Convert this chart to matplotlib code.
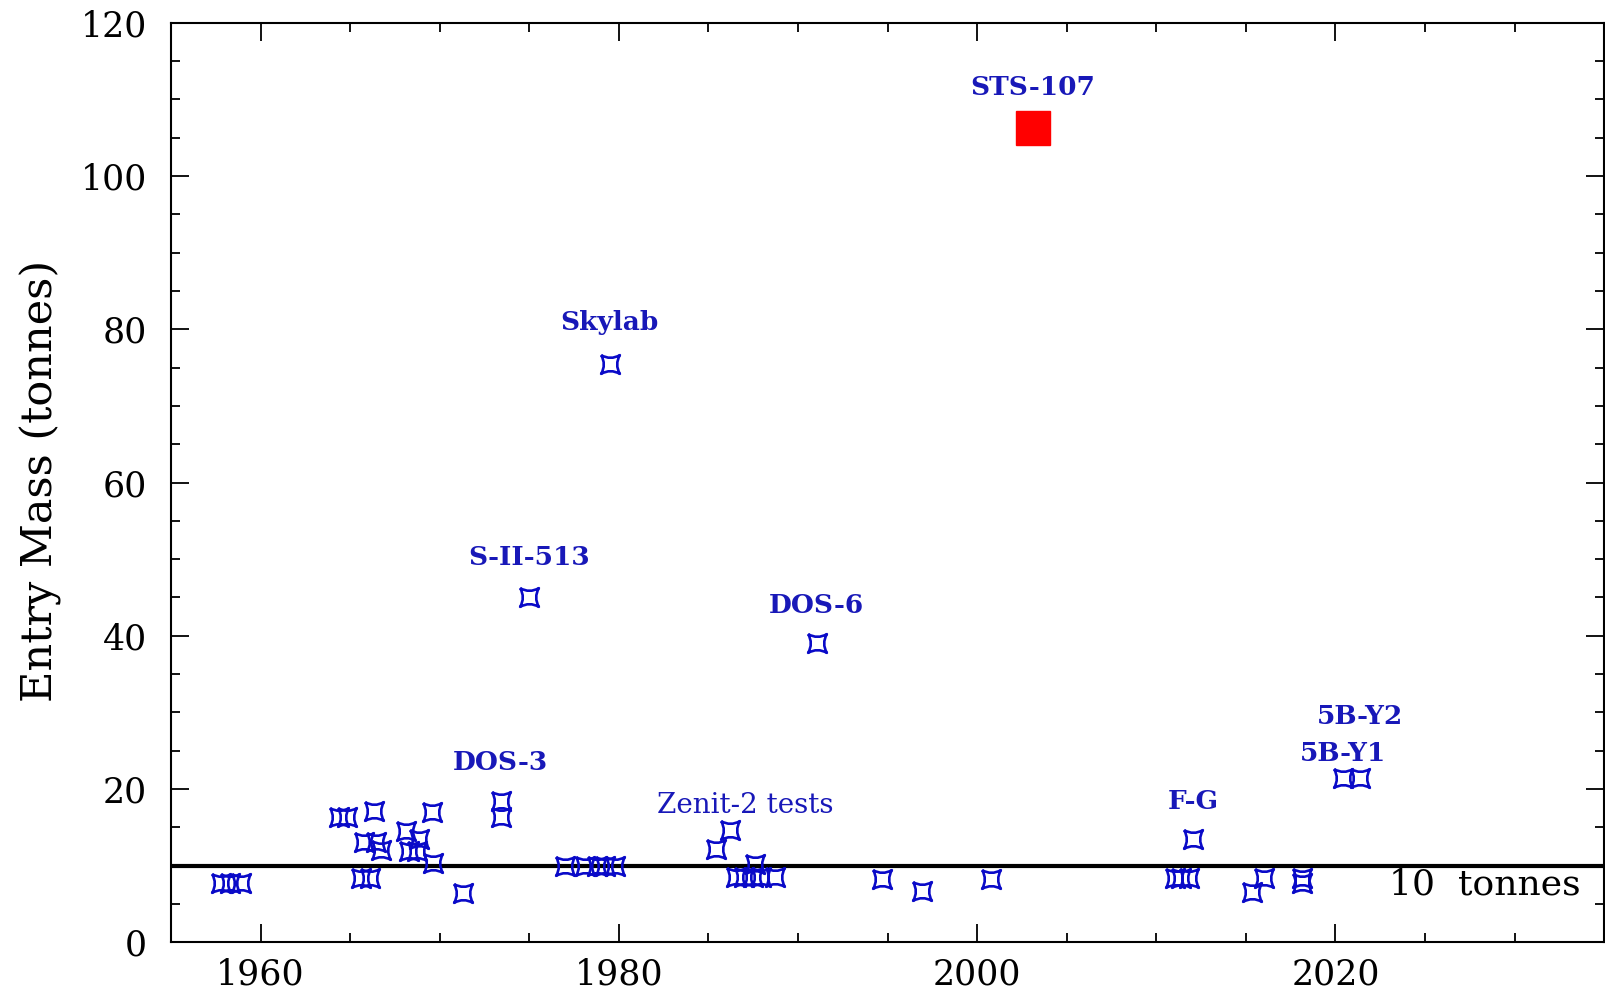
import matplotlib
matplotlib.use("Agg")
import matplotlib.pyplot as plt
from matplotlib.path import Path
from matplotlib.ticker import MultipleLocator

# uncontrolled entries, year of reentry vs mass in tonnes
years = [1957.8, 1958.3, 1958.9,
         1964.4, 1964.8, 1966.35,
         1965.8, 1966.45, 1966.7,
         1965.6, 1966.1,
         1968.1, 1968.85, 1968.3, 1968.75, 1969.6, 1969.55,
         1971.3, 1973.4, 1973.4,
         1975.0, 1979.5,
         1977.0, 1978.1, 1978.8, 1979.25, 1979.8,
         1985.45, 1986.2, 1986.55, 1987.0, 1987.5, 1987.95, 1988.7, 1987.6,
         1991.05, 1994.7, 1996.9, 2000.8,
         2011.05, 2011.4, 2011.8, 2012.05,
         2015.35, 2016.0, 2018.15, 2018.15,
         2020.4, 2021.35]
masses = [7.8, 7.8, 7.8,
          16.3, 16.3, 17.2,
          13.1, 13.1, 12.0,
          8.4, 8.4,
          14.5, 13.5, 11.9, 11.9, 10.3, 17.0,
          6.5, 18.4, 16.4,
          45.1, 75.5,
          10.0, 10.0, 10.0, 10.0, 10.0,
          12.2, 14.6, 8.5, 8.5, 8.5, 8.5, 8.5, 10.2,
          39.0, 8.3, 6.7, 8.3,
          8.4, 8.4, 8.4, 13.5,
          6.6, 8.4, 8.4, 7.7,
          21.5, 21.5]

sts_year = [2003.1]
sts_mass = [106.3]

# named entries: (label, year, mass, text offset in points, bold)
names = [("STS-107", 2003.1, 106.3, (0, 29), True),
         ("Skylab", 1979.5, 75.5, (0, 30), True),
         ("S-II-513", 1975.0, 45.1, (0, 28), True),
         ("DOS-6", 1991.05, 39.0, (0, 27), True),
         ("DOS-3", 1973.4, 18.4, (0, 28), True),
         ("Zenit-2 tests", 1986.2, 14.6, (11, 18), False),
         ("F-G", 2012.05, 13.5, (0, 27), True),
         ("5B-Y1", 2020.4, 21.5, (0, 17), True),
         ("5B-Y2", 2021.35, 21.5, (0, 44), True)]

blue = "#0a0ac8"
txt_blue = "#1818b8"

# four-pointed star with concave sides, points on the diagonals
c = 0.42
verts = [(-1, 1), (0, c), (1, 1), (c, 0), (1, -1), (0, -c), (-1, -1), (-c, 0), (-1, 1)]
codes = [Path.MOVETO] + [Path.CURVE3] * 8
star = Path(verts, codes)

plt.rcParams["font.family"] = ["DejaVu Serif"]

fig = plt.figure(figsize=(16.05, 9.91), dpi=100)
ax = fig.add_axes([0.1065, 0.0491, 0.893, 0.928])

ax.axhline(10, color="black", lw=3.0, zorder=2)
ax.plot(years, masses, linestyle="none", marker=star, markersize=13.5,
        markerfacecolor="none", markeredgecolor=blue, markeredgewidth=1.9, zorder=3)
ax.plot(sts_year, sts_mass, linestyle="none", marker="s", markersize=24,
        color="#ff0000", zorder=3)

for label, x, y, off, bold in names:
    ax.annotate(label, (x, y), xytext=off, textcoords="offset points",
                ha="center", va="center", color=txt_blue,
                fontsize=19 if bold else 20, fontweight="bold" if bold else "normal")

ax.text(2033.7, 7.6, "10  tonnes", ha="right", va="center", fontsize=26, color="black")

ax.set_xlim(1955, 2035)
ax.set_ylim(0, 120)
ax.xaxis.set_major_locator(MultipleLocator(20))
ax.xaxis.set_minor_locator(MultipleLocator(5))
ax.yaxis.set_major_locator(MultipleLocator(20))
ax.yaxis.set_minor_locator(MultipleLocator(5))
ax.tick_params(which="both", direction="in", top=True, right=True, width=1.3)
ax.tick_params(which="major", length=13)
ax.tick_params(which="minor", length=6.5)
ax.tick_params(axis="y", which="major", labelsize=25, pad=17)
ax.tick_params(axis="x", which="major", labelsize=25, pad=11)
for s in ax.spines.values():
    s.set_linewidth(1.5)

fig.text(41 / 1605, 1 - 481 / 991, "Entry Mass (tonnes)", rotation=90,
         ha="center", va="center", fontsize=31)

fig.savefig("out.png", dpi=100)
